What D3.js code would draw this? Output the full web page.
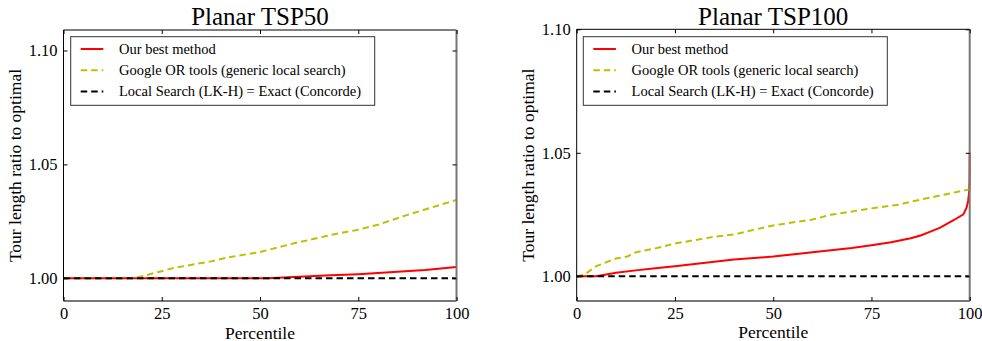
<!DOCTYPE html>
<html>
<head>
<meta charset="utf-8">
<title>Planar TSP</title>
<script src="https://cdn.jsdelivr.net/npm/d3@7"></script>
<style>
    body { margin: 0; background: #fff; }
    svg text { font-family: "Liberation Serif", "Times New Roman", serif; fill: #000; }
</style>
</head>
<body>
<div class="mainView"></div>
<script>
// legend / series names
const seriesNames = ["Our best method", "Google OR tools (generic local search)", "Local Search (LK-H) = Exact (Concorde)"];
const xTicks = [0, 25, 50, 75, 100];
const yTicks = [1.00, 1.05, 1.10];

// TSP50 (percentile -> ratio)
const bestPct50 = [0, 52, 60, 68, 75, 85, 92, 100];
const bestVal50 = [1.0, 1.0, 1.0006, 1.0013, 1.0018, 1.0028, 1.0036, 1.0049];
const orPct50 = [0, 18, 25, 28, 37.5, 42, 50, 59, 62.5, 68, 75, 80, 87.5, 100];
const orVal50 = [1.0, 1.0, 1.0031, 1.0045, 1.0074, 1.0092, 1.0115, 1.0155, 1.0168, 1.019, 1.0213, 1.0235, 1.0278, 1.0344];
const exactPct50 = [0, 100];
const exactVal50 = [1.0, 1.0];

// TSP100
const bestPct100 = [0, 5, 10, 15, 20, 25, 30, 40, 50, 60, 70, 75, 80, 85, 87.5, 90, 92.5, 96, 98.4, 99.2, 99.6, 99.85, 99.95, 100];
const bestVal100 = [1.0, 1.0, 1.0014, 1.0024, 1.0033, 1.0041, 1.005, 1.0068, 1.008, 1.0097, 1.0115, 1.0126, 1.0138, 1.0154, 1.0165, 1.0181, 1.0197, 1.0228, 1.0251, 1.0278, 1.0305, 1.034, 1.038, 1.05];
const orPct100 = [0, 2, 5, 10, 12.7, 15, 20, 25, 35, 40, 45, 50, 60, 65, 75, 82, 85, 90, 100];
const orVal100 = [1.0, 1.0007, 1.0041, 1.0072, 1.0079, 1.0097, 1.0113, 1.0133, 1.016, 1.0169, 1.0188, 1.0206, 1.023, 1.025, 1.0275, 1.029, 1.0302, 1.0319, 1.0352];
const exactPct100 = [0, 100];
const exactVal100 = [1.0, 1.0];

let panels = [
    { title: "Planar TSP50", left: 63.5, top: 30, yDomain: [0.990, 1.109], legendX: 7.2,
      series: [[bestPct50, bestVal50], [orPct50, orVal50], [exactPct50, exactVal50]] },
    { title: "Planar TSP100", left: 576.7, top: 29.3, yDomain: [0.990, 1.10], legendX: 6.6,
      series: [[bestPct100, bestVal100], [orPct100, orVal100], [exactPct100, exactVal100]] }
];
const styles = [
    { color: "#ff0000", dash: null },
    { color: "#bfbf00", dash: "6.5,4" },
    { color: "#000000", dash: "6.5,4" }
];

function getChartConfig() {
    let width = 982;
    let height = 341;
    let svg = d3.select(".mainView")
        .append("svg")
        .attr("width", width)
        .attr("height", height);
    return { width, height, svg };
}

function getChartScales(p) {
    let bodyWidth = 393;
    let bodyHeight = 301 - p.top;
    let xScale = d3.scaleLinear().domain([0, 100]).range([0, bodyWidth]);
    let yScale = d3.scaleLinear().domain(p.yDomain).range([bodyHeight, 0]);
    return { xScale, yScale, bodyWidth, bodyHeight };
}

function drawPanel(p, config) {
    let { xScale, yScale, bodyWidth, bodyHeight } = getChartScales(p);
    let g = config.svg.append("g").attr("transform", "translate(" + [p.left, p.top] + ")");

    // lines, in legend order so black dashes end on top
    let line = d3.line().x(d => xScale(d[0])).y(d => yScale(d[1]));
    p.series.forEach((s, i) => {
        let pts = s[0].map((x, j) => [x, s[1][j]]);
        g.append("path")
            .datum(pts)
            .attr("d", line)
            .attr("fill", "none")
            .attr("stroke", styles[i].color)
            .attr("stroke-width", 2)
            .attr("stroke-dasharray", styles[i].dash);
    });

    // frame
    g.append("line").attr("x1", 0).attr("x2", bodyWidth).attr("y1", 0).attr("y2", 0).attr("stroke", "#000");
    g.append("line").attr("x1", 0).attr("x2", 0).attr("y1", 0).attr("y2", bodyHeight).attr("stroke", "#000");
    g.append("line").attr("x1", 0).attr("x2", bodyWidth).attr("y1", bodyHeight).attr("y2", bodyHeight)
        .attr("stroke", "#777").attr("stroke-width", 2);
    g.append("line").attr("x1", bodyWidth).attr("x2", bodyWidth).attr("y1", 0).attr("y2", bodyHeight)
        .attr("stroke", "#777").attr("stroke-width", 2);

    // axes, ticks pointing inward like the old matplotlib style
    let axisX = d3.axisBottom(xScale).tickValues(xTicks).tickSizeInner(-4).tickSizeOuter(0).tickPadding(6);
    let gx = g.append("g").attr("transform", "translate(0," + bodyHeight + ")").call(axisX);
    let axisXTop = d3.axisTop(xScale).tickValues(xTicks).tickSizeInner(-4).tickSizeOuter(0).tickFormat("");
    let gxt = g.append("g").call(axisXTop);
    let axisY = d3.axisLeft(yScale).tickValues(yTicks).tickFormat(d3.format(".2f")).tickSizeInner(-4).tickSizeOuter(0).tickPadding(6);
    let gy = g.append("g").call(axisY);
    let axisYRight = d3.axisRight(yScale).tickValues(yTicks).tickSizeInner(-4).tickSizeOuter(0).tickFormat("");
    let gyr = g.append("g").attr("transform", "translate(" + bodyWidth + ",0)").call(axisYRight);
    [gx, gxt, gy, gyr].forEach(a => {
        a.select(".domain").remove();
        a.selectAll("line").attr("stroke", "#000");
        a.selectAll("text").style("font-family", "'Liberation Serif', 'Times New Roman', serif").style("font-size", "16.5px").attr("fill", "#000");
    });

    // title and labels
    g.append("text").attr("x", bodyWidth / 2).attr("y", 25 - p.top)
        .attr("text-anchor", "middle").style("font-size", "25px").text(p.title);
    g.append("text").attr("x", bodyWidth / 2).attr("y", 338.5 - p.top)
        .attr("text-anchor", "middle").style("font-size", "17.5px").text("Percentile");
    g.append("text")
        .attr("transform", "translate(" + (-49) + "," + (bodyHeight / 2) + ") rotate(-90)")
        .attr("text-anchor", "middle").attr("dy", "0.35em")
        .style("font-size", "17.5px").text("Tour length ratio to optimal");

    // legend
    let lg = g.append("g").attr("transform", "translate(" + [p.legendX, 36.7 - p.top] + ")");
    lg.append("rect").attr("width", 304).attr("height", 68.6)
        .attr("fill", "#fff").attr("stroke", "#333").attr("stroke-width", 1);
    seriesNames.forEach((name, i) => {
        let cy = 12.3 + i * 21.2;
        lg.append("line").attr("x1", 10).attr("x2", 32.6).attr("y1", cy).attr("y2", cy)
            .attr("stroke", styles[i].color).attr("stroke-width", 2)
            .attr("stroke-dasharray", styles[i].dash);
        lg.append("text").attr("x", 48.3).attr("y", cy).attr("dy", "0.33em")
            .style("font-size", "14.5px").text(name);
    });
}

function showData() {
    let config = getChartConfig();
    panels.forEach(p => drawPanel(p, config));
}
showData();
</script>
</body>
</html>
